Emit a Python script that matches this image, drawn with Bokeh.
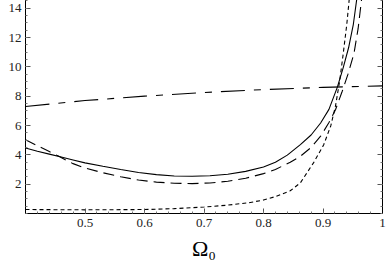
from bokeh.plotting import figure
from bokeh.models import FixedTicker, LinearAxis, Range1d
from bokeh.embed import file_html
from bokeh.resources import INLINE

# ---- data ----
solid_x = [0.40, 0.42, 0.44, 0.46, 0.48, 0.50, 0.53, 0.56, 0.59, 0.62, 0.65, 0.68, 0.71, 0.74, 0.77, 0.80,
           0.82, 0.84, 0.862, 0.88, 0.896, 0.91, 0.924, 0.934, 0.943, 0.951, 0.958]
solid_y = [4.47, 4.25, 4.05, 3.85, 3.65, 3.45, 3.22, 3.00, 2.80, 2.65, 2.56, 2.54, 2.57, 2.68, 2.87, 3.17,
           3.50, 3.98, 4.70, 5.35, 6.17, 7.10, 8.60, 9.95, 11.3, 12.9, 15.0]

ldash_x = [0.40, 0.42, 0.44, 0.456, 0.47, 0.48, 0.50, 0.53, 0.56, 0.59, 0.62, 0.65, 0.68, 0.71, 0.74, 0.77,
           0.80, 0.82, 0.845, 0.862, 0.88, 0.896, 0.91, 0.921, 0.932, 0.942, 0.952, 0.959, 0.966]
ldash_y = [5.03, 4.62, 4.22, 3.90, 3.60, 3.40, 3.10, 2.78, 2.50, 2.28, 2.14, 2.06, 2.04, 2.08, 2.20, 2.40,
           2.72, 3.00, 3.50, 3.90, 4.50, 5.27, 6.20, 7.07, 8.30, 9.50, 10.9, 12.6, 15.0]

sdash_x = [0.40, 0.50, 0.60, 0.65, 0.70, 0.74, 0.778, 0.80, 0.82, 0.845, 0.862, 0.884, 0.901, 0.913, 0.921,
           0.928, 0.934, 0.940, 0.945]
sdash_y = [0.27, 0.25, 0.27, 0.33, 0.44, 0.57, 0.75, 0.92, 1.15, 1.55, 2.09, 3.45, 4.67, 5.97, 7.33,
           9.03, 10.9, 12.9, 15.0]

dd_x = [0.40, 0.50, 0.60, 0.70, 0.80, 0.90, 1.00]
dd_y = [7.30, 7.70, 8.00, 8.25, 8.45, 8.60, 8.70]

x_ticks = [0.5, 0.6, 0.7, 0.8, 0.9, 1.0]
y_ticks = [2, 4, 6, 8, 10, 12, 14]

W, H = 389, 273
p = figure(width=W, height=H, output_backend="svg", toolbar_location=None,
           x_range=Range1d(0.4, 1.0), y_range=Range1d(0, 15),
           x_axis_location=None, y_axis_location=None,
           min_border_left=25, min_border_right=7, min_border_top=1, min_border_bottom=52,
           margin=(-8, 0, 0, 0))
p.grid.visible = False
p.outline_line_color = "black"
p.outline_line_width = 1
p.background_fill_color = "white"
p.border_fill_color = "white"

xminor = [round(0.4 + 0.02 * i, 3) for i in range(31)]
yminor = [0.5 * i for i in range(31)]
xt = FixedTicker(ticks=x_ticks, minor_ticks=xminor)
yt = FixedTicker(ticks=y_ticks, minor_ticks=yminor)

FONT = "Liberation Serif"

def style(ax, labels=True):
    ax.axis_line_color = "black"
    ax.major_tick_in = 5
    ax.major_tick_out = 0
    ax.minor_tick_in = 2
    ax.minor_tick_out = 0
    ax.major_tick_line_color = "#555555"
    ax.minor_tick_line_color = "#777777"
    ax.major_label_text_font = FONT
    ax.major_label_text_font_size = "13px"
    ax.major_label_text_color = "#222222" if labels else None

bx = LinearAxis(ticker=xt, major_label_overrides={1.0: "1"})
style(bx)
bx.major_label_standoff = 5
bx.axis_label = "Ω₀"
bx.axis_label_text_font = FONT
bx.axis_label_text_font_size = "22px"
bx.axis_label_text_font_style = "normal"
bx.axis_label_text_color = "black"
bx.axis_label_standoff = 6
p.add_layout(bx, "below")

ly = LinearAxis(ticker=yt)
style(ly)
ly.major_label_standoff = 4
p.add_layout(ly, "left")

tx = LinearAxis(ticker=xt)
style(tx, labels=False)
tx.major_label_standoff = 0
p.add_layout(tx, "above")

ry = LinearAxis(ticker=yt)
style(ry, labels=False)
ry.major_label_standoff = 0
p.add_layout(ry, "right")

p.line(dd_x, dd_y, line_color="black", line_width=1.1, line_dash="24 9 7 9")
p.line(solid_x, solid_y, line_color="black", line_width=1.1)
p.line(ldash_x, ldash_y, line_color="black", line_width=1.1, line_dash="11 6")
p.line(sdash_x, sdash_y, line_color="black", line_width=1.1, line_dash="4 3")

open("out.html", "w").write(file_html(p, INLINE))
